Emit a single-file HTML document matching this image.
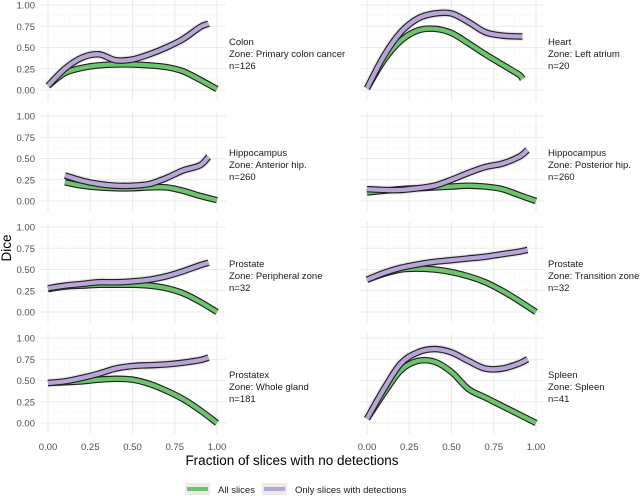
<!DOCTYPE html>
<html><head><meta charset="utf-8"><style>
body{margin:0;background:#fff;}
svg{display:block;font-family:"Liberation Sans",sans-serif;}
</style></head><body>
<svg id="chart" width="640" height="496" viewBox="0 0 640 496"></svg>
<script>
const panelNames=["Colon","Heart","Hippocampus","Hippocampus","Prostate","Prostate","Prostatex","Spleen"];
const panelZones=["Primary colon cancer","Left atrium","Anterior hip.","Posterior hip.","Peripheral zone","Transition zone","Whole gland","Spleen"];
const panelN=[126,20,260,260,32,32,181,41];
const xTicks=[0,0.25,0.5,0.75,1];
const xTickLabels=["0.00","0.25","0.50","0.75","1.00"];
const yTicks=[0,0.25,0.5,0.75,1];
const yTickLabels=["0.00","0.25","0.50","0.75","1.00"];
const greenX=[
 [0,0.1,0.2,0.3,0.4,0.5,0.6,0.7,0.8,0.9,1],
 [0,0.1,0.2,0.3,0.4,0.5,0.6,0.7,0.8,0.9,0.92],
 [0.1,0.2,0.3,0.4,0.5,0.6,0.7,0.8,0.9,1],
 [0,0.1,0.2,0.3,0.4,0.5,0.6,0.7,0.8,0.9,1],
 [0,0.1,0.2,0.3,0.4,0.5,0.6,0.7,0.8,0.9,1],
 [0,0.1,0.2,0.3,0.4,0.5,0.6,0.7,0.8,0.9,1],
 [0,0.1,0.2,0.3,0.4,0.5,0.6,0.7,0.8,0.9,1],
 [0,0.1,0.2,0.3,0.4,0.5,0.6,0.7,0.8,0.9,1]];
const greenY=[
 [0.05,0.2,0.26,0.29,0.3,0.3,0.29,0.27,0.22,0.12,0.01],
 [0.02,0.35,0.58,0.7,0.72,0.67,0.55,0.42,0.3,0.18,0.13],
 [0.22,0.18,0.16,0.15,0.15,0.16,0.16,0.12,0.06,0.01],
 [0.1,0.12,0.14,0.15,0.16,0.17,0.18,0.17,0.14,0.07,0.0],
 [0.27,0.3,0.31,0.32,0.32,0.32,0.31,0.28,0.22,0.12,0.0],
 [0.38,0.45,0.5,0.51,0.5,0.47,0.42,0.35,0.25,0.13,0.0],
 [0.47,0.48,0.49,0.51,0.52,0.51,0.46,0.38,0.28,0.15,0.0],
 [0.05,0.35,0.62,0.73,0.72,0.6,0.4,0.3,0.2,0.1,0.0]];
const purpleX=[
 [0,0.1,0.2,0.3,0.4,0.5,0.6,0.7,0.8,0.9,0.95],
 [0,0.1,0.2,0.3,0.4,0.5,0.6,0.7,0.8,0.9,0.92],
 [0.1,0.2,0.3,0.4,0.5,0.6,0.7,0.8,0.9,0.95],
 [0,0.1,0.2,0.3,0.4,0.5,0.6,0.7,0.8,0.9,0.95],
 [0,0.1,0.2,0.3,0.4,0.5,0.6,0.7,0.8,0.9,0.95],
 [0,0.1,0.2,0.3,0.4,0.5,0.6,0.7,0.8,0.9,0.95],
 [0,0.1,0.2,0.3,0.4,0.5,0.6,0.7,0.8,0.9,0.95],
 [0,0.1,0.2,0.3,0.4,0.5,0.6,0.7,0.8,0.9,0.95]];
const purpleY=[
 [0.05,0.25,0.38,0.42,0.35,0.36,0.42,0.5,0.6,0.74,0.78],
 [0.02,0.4,0.68,0.84,0.9,0.9,0.8,0.68,0.64,0.63,0.63],
 [0.3,0.24,0.2,0.18,0.18,0.2,0.27,0.36,0.42,0.52],
 [0.14,0.13,0.13,0.15,0.18,0.25,0.33,0.4,0.44,0.52,0.6],
 [0.28,0.31,0.33,0.35,0.35,0.36,0.38,0.42,0.48,0.55,0.58],
 [0.38,0.46,0.52,0.56,0.59,0.61,0.63,0.65,0.68,0.71,0.73],
 [0.47,0.49,0.53,0.58,0.64,0.67,0.68,0.69,0.71,0.74,0.77],
 [0.05,0.4,0.7,0.83,0.87,0.83,0.73,0.64,0.64,0.7,0.75]];

const svg=document.getElementById('chart');
const NS="http://www.w3.org/2000/svg";
function mk(tag,attrs,parent){const e=document.createElementNS(NS,tag);for(const k in attrs)e.setAttribute(k,attrs[k]);(parent||svg).appendChild(e);return e;}
const colX0=[48,367], unitX=169, unitY=85, rowZero=[90,201,312,423];
function path(xs,ys,sx,sy){
  const p=xs.map((x,i)=>[sx(x),sy(ys[i])]);
  let d="M"+p[0][0]+","+p[0][1];
  for(let i=0;i<p.length-1;i++){
    const p0=p[i-1]||p[i],p1=p[i],p2=p[i+1],p3=p[i+2]||p2;
    const c1=[p1[0]+(p2[0]-p0[0])/6,p1[1]+(p2[1]-p0[1])/6];
    const c2=[p2[0]-(p3[0]-p1[0])/6,p2[1]-(p3[1]-p1[1])/6];
    d+=" C"+c1[0]+","+c1[1]+" "+c2[0]+","+c2[1]+" "+p2[0]+","+p2[1];
  }
  return d;
}
for(let i=0;i<8;i++){
  const col=i%2,row=Math.floor(i/2);
  const x0=colX0[col],z=rowZero[row];
  const sx=v=>x0+v*unitX, sy=v=>z-v*unitY;
  const g=mk('g',{});
  
  
  const top=z-90,bot=z+11,left=x0-8,right=x0+unitX+9;
  for(let k=0;k<4;k++){const v=0.125+0.25*k;
    mk('line',{x1:left,x2:right,y1:sy(v),y2:sy(v),stroke:'#f5f5f5','stroke-width':0.6},g);
    mk('line',{x1:sx(v),x2:sx(v),y1:top,y2:bot,stroke:'#f5f5f5','stroke-width':0.6},g);}
  yTicks.forEach((v,k)=>{
    mk('line',{x1:left,x2:right,y1:sy(v),y2:sy(v),stroke:'#ebebeb','stroke-width':1.1},g);
    if(col===0){const t=mk('text',{x:35,y:sy(v)+3.5,'text-anchor':'end','font-size':9.5,fill:'#4d4d4d'},g);t.textContent=yTickLabels[k];}
  });
  xTicks.forEach((v,k)=>{
    mk('line',{x1:sx(v),x2:sx(v),y1:top,y2:bot,stroke:'#ebebeb','stroke-width':1.1},g);
    if(row===3){const t=mk('text',{x:sx(v),y:450,'text-anchor':'middle','font-size':9.5,fill:'#4d4d4d'},g);t.textContent=xTickLabels[k];}
  });
  mk('path',{d:path(purpleX[i],purpleY[i],sx,sy),fill:'none',stroke:'#e6e6e6','stroke-width':9},g);
  [[greenX[i],greenY[i],'#6cc46c','green-smooth-line'],[purpleX[i],purpleY[i],'#b9a6d8','purple-smooth-line']].forEach(s=>{
    const d=path(s[0],s[1],sx,sy);
    mk('path',{d:d,fill:'none',stroke:'#222','stroke-width':6.5},g);
    const l=mk('path',{d:d,fill:'none',stroke:s[2],'stroke-width':4.2},g);
    
    
  });
  const sxl=x0+181;
  const st=mk('text',{x:sxl,y:z-45,'font-size':9.5,fill:'#1a1a1a'},g);
  
  
  [panelNames[i],'Zone: '+panelZones[i],'n='+panelN[i]].forEach((s,k)=>{const ts=mk('tspan',{x:sxl,dy:k?12:0},st);ts.textContent=s;});
}
let t=mk('text',{x:292,y:465,'text-anchor':'middle','font-size':13.5,fill:'#000'});t.textContent='Fraction of slices with no detections';

t=mk('text',{x:0,y:0,'text-anchor':'middle','font-size':13.5,fill:'#000',transform:'translate(11,248) rotate(-90)'});t.textContent='Dice';

const lg=mk('g',{});


[[185,'#6cc46c',218,'All slices'],[262,'#b9a6d8',295,'Only slices with detections']].forEach(a=>{
  mk('rect',{x:a[0],y:483,width:25,height:12,fill:'#ebebeb'},lg);
  mk('line',{x1:a[0]+2,x2:a[0]+23,y1:489,y2:489,stroke:a[1],'stroke-width':4},lg);
  const tt=mk('text',{x:a[2],y:493,'font-size':9.5,fill:'#1a1a1a'},lg);tt.textContent=a[3];
  
  
});
</script>
</body></html>
